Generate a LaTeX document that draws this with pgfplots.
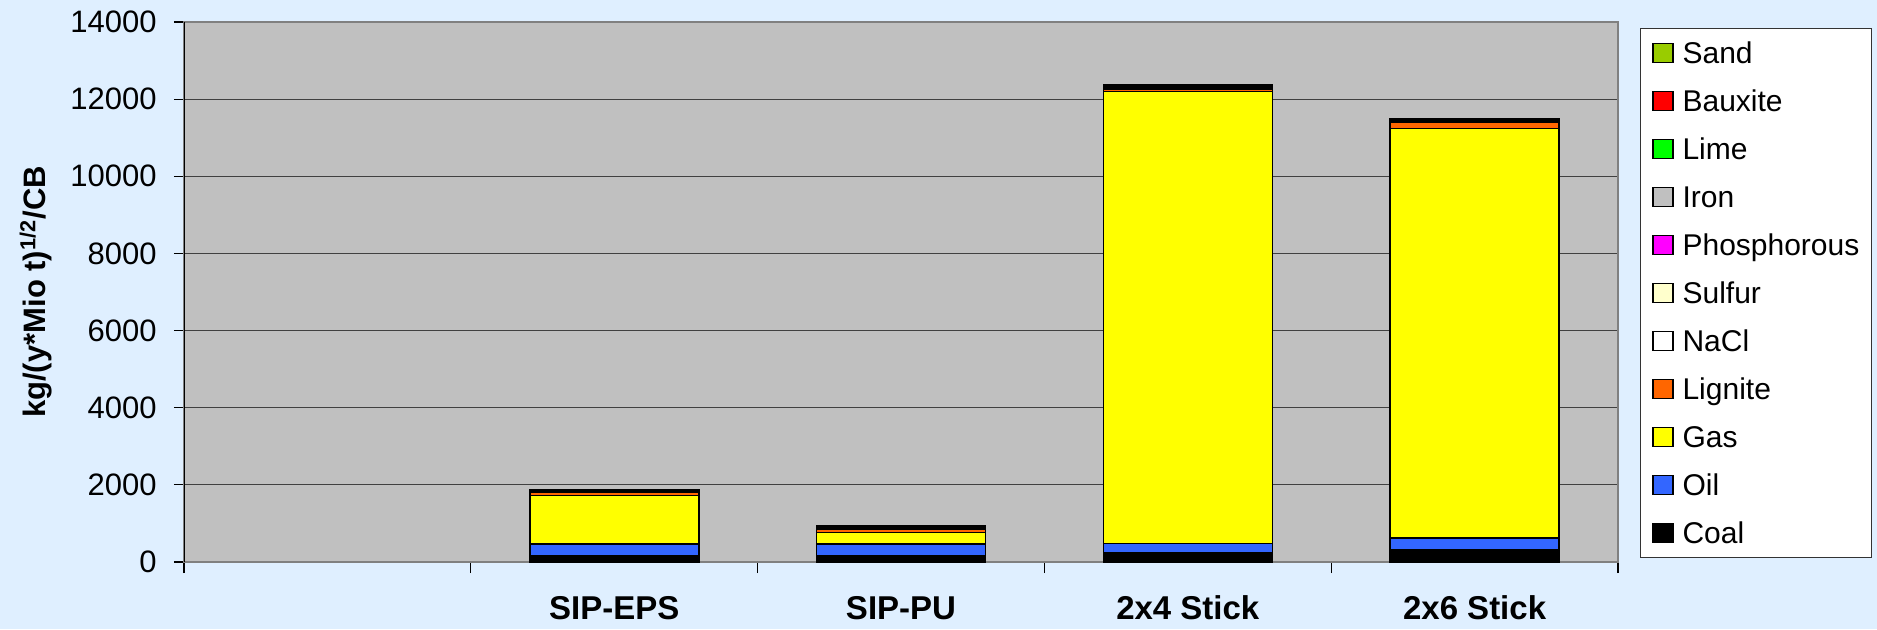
\documentclass[border=0pt]{standalone}
\usepackage{fontspec}
\setmainfont{Liberation Sans}
\usepackage{pgfplots}
\pgfplotsset{compat=1.18}

\definecolor{bgblue}{RGB}{223,239,255}
\definecolor{plotgray}{RGB}{192,192,192}
\definecolor{coal}{RGB}{0,0,0}
\definecolor{oil}{RGB}{51,102,255}
\definecolor{gas}{RGB}{255,255,0}
\definecolor{lignite}{RGB}{255,102,0}
\definecolor{nacl}{RGB}{255,255,255}
\definecolor{sulfur}{RGB}{255,255,204}
\definecolor{phos}{RGB}{255,0,255}
\definecolor{iron}{RGB}{192,192,192}
\definecolor{lime}{RGB}{0,255,0}
\definecolor{bauxite}{RGB}{255,0,0}
\definecolor{sand}{RGB}{153,204,0}

\pgfplotsset{
  sqlegend/.style={legend image code/.code={
    \draw[##1, draw=black, line width=0.6pt] (0pt,-4.75pt) rectangle (10pt,4.75pt);}},
  seg/.style={fill=#1, draw=black, line width=0.8pt, sqlegend},
}

\begin{document}
\begin{tikzpicture}
\useasboundingbox (0,0) rectangle (938.5pt,314.5pt);
\fill[bgblue] (0,0) rectangle (938.5pt,314.5pt);
\begin{axis}[
  at={(92pt,33.5pt)}, anchor=south west,
  scale only axis, width=717pt, height=270pt,
  ybar stacked, bar width=84.5pt,
  xmin=-0.5, xmax=4.5, ymin=0, ymax=14000,
  axis background/.style={fill=plotgray},
  axis line style={draw=black!50, line width=0.6pt},
  tick align=outside, tick pos=left,
  xtick={0,1,2,3,4},
  xticklabels={,SIP-EPS,SIP-PU,2x4 Stick,2x6 Stick},
  major x tick style={draw=none},
  minor xtick={-0.5,0.5,1.5,2.5,3.5,4.5},
  minor x tick style={draw=black, line width=0.6pt},
  minor tick length=5.5pt,
  ytick={0,2000,...,14000},
  scaled y ticks=false,
  major tick length=5pt,
  y tick style={draw=black, line width=0.6pt},
  ymajorgrids, grid style={draw=black!75, line width=0.5pt},
  /pgf/number format/assume math mode=true,
  /pgf/number format/1000 sep={},
  yticklabel style={font=\fontsize{15.5}{18}\selectfont, anchor=east, inner sep=0pt, xshift=-8.5pt},
  xticklabel style={font=\bfseries\fontsize{16.5}{19}\selectfont, anchor=center, yshift=-18pt},
  ylabel={kg/(y*Mio t)\textsuperscript{1/2}/CB},
  ylabel style={font=\bfseries\fontsize{15.5}{18}\selectfont, at={(axis description cs:-0.1032,0.5)}, anchor=center},
  reverse legend,
  legend cell align=left,
  legend style={at={(1.0153,0.9889)}, anchor=north west, draw=black!80, fill=white,
    font=\fontsize{15}{18}\selectfont, inner xsep=6pt, inner ysep=5pt, row sep=9.5pt,
    nodes={inner sep=0pt, text height=12.5pt, text depth=2pt},
    /tikz/every odd column/.append style={column sep=4.5pt}},
]
\addplot[seg=coal]    coordinates {(1,160) (2,160) (3,230) (4,310)};
\addlegendentry{Coal}
\addplot[seg=oil]     coordinates {(1,310) (2,300) (3,255) (4,320)};
\addlegendentry{Oil}
\addplot[seg=gas]     coordinates {(1,1250) (2,310) (3,11710) (4,10610)};
\addlegendentry{Gas}
\addplot[seg=lignite] coordinates {(1,80) (2,70) (3,60) (4,170)};
\addlegendentry{Lignite}
\addplot[seg=nacl]    coordinates {(1,20) (2,30) (3,40) (4,30)};
\addlegendentry{NaCl}
\addplot[seg=sulfur]  coordinates {(1,20) (2,30) (3,30) (4,20)};
\addlegendentry{Sulfur}
\addplot[seg=phos]    coordinates {(1,5) (2,10) (3,10) (4,5)};
\addlegendentry{Phosphorous}
\addplot[seg=iron]    coordinates {(1,15) (2,20) (3,20) (4,15)};
\addlegendentry{Iron}
\addplot[seg=lime]    coordinates {(1,10) (2,10) (3,10) (4,5)};
\addlegendentry{Lime}
\addplot[seg=bauxite] coordinates {(1,5) (2,5) (3,10) (4,5)};
\addlegendentry{Bauxite}
\addplot[seg=sand]    coordinates {(1,5) (2,5) (3,10) (4,5)};
\addlegendentry{Sand}
\draw[black, line width=0.8pt] (rel axis cs:0,0) -- (rel axis cs:0,1);
\end{axis}
\end{tikzpicture}
\end{document}
